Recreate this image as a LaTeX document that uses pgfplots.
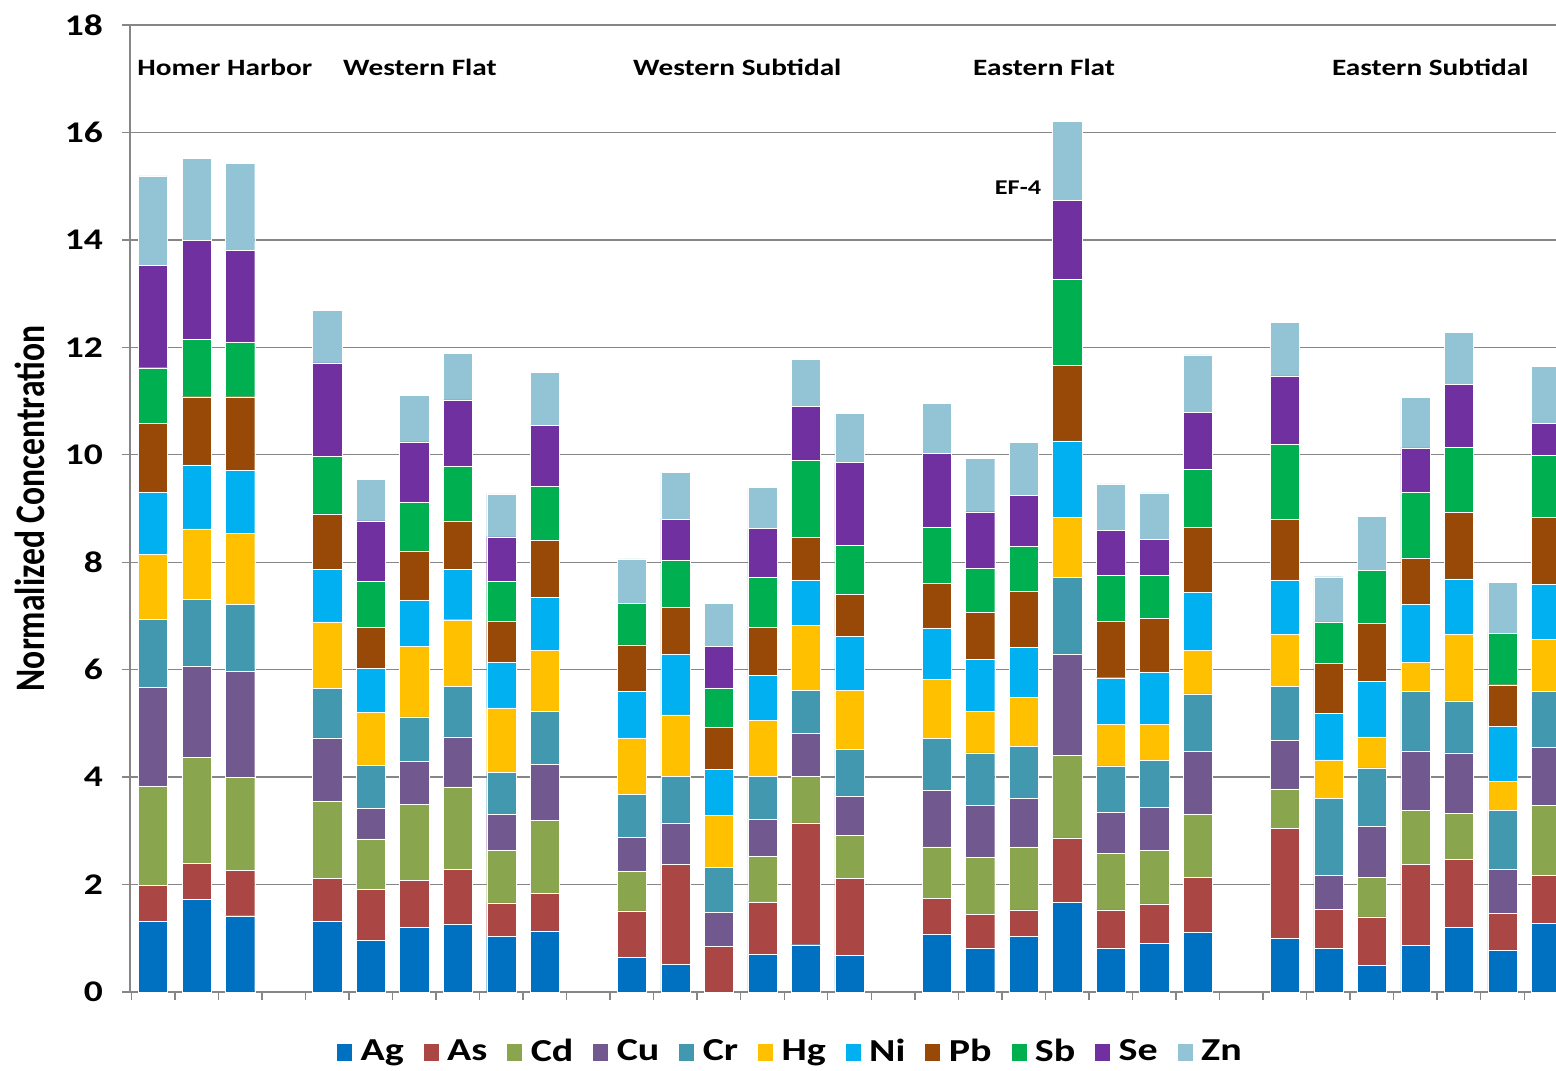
\documentclass[border=0pt]{standalone}
\usepackage{fontspec}
\setmainfont{Carlito}[FakeStretch=1.25]
\newfontfamily\ylabfont{Carlito}[FakeStretch=0.8]
\usepackage{pgfplots}
\usepackage{pgfplotstable}
\pgfplotsset{compat=1.18}

\definecolor{cAg}{HTML}{0070C0}
\definecolor{cAs}{HTML}{AA4644}
\definecolor{cCd}{HTML}{89A54E}
\definecolor{cCu}{HTML}{71588F}
\definecolor{cCr}{HTML}{4198AF}
\definecolor{cHg}{HTML}{FFC000}
\definecolor{cNi}{HTML}{00B0F0}
\definecolor{cPb}{HTML}{984807}
\definecolor{cSb}{HTML}{00B050}
\definecolor{cSe}{HTML}{7030A0}
\definecolor{cZn}{HTML}{93C4D5}
\definecolor{gridgray}{HTML}{868686}

% slot positions: 0-2 Homer Harbor, 4-9 Western Flat, 11-16 Western Subtidal,
% 18-24 Eastern Flat, 26-32 Eastern Subtidal
\pgfplotstableread{
x  Ag   As   Cd   Cu   Cr   Hg   Ni   Pb   Sb   Se   Zn
0  1.32 0.67 1.84 1.84 1.27 1.21 1.16 1.27 1.04 1.90 1.67
1  1.72 0.68 1.97 1.70 1.24 1.31 1.19 1.27 1.07 1.84 1.53
2  1.42 0.85 1.72 1.98 1.24 1.33 1.17 1.37 1.01 1.72 1.61
4  1.31 0.80 1.44 1.18 0.92 1.24 0.98 1.03 1.07 1.74 0.98
5  0.97 0.94 0.94 0.57 0.80 0.98 0.82 0.77 0.85 1.13 0.77
6  1.20 0.88 1.41 0.80 0.83 1.31 0.87 0.91 0.90 1.13 0.87
7  1.27 1.01 1.54 0.93 0.94 1.24 0.94 0.90 1.01 1.24 0.87
8  1.03 0.63 0.98 0.67 0.78 1.20 0.84 0.77 0.74 0.83 0.80
9  1.14 0.69 1.36 1.05 0.98 1.14 0.98 1.07 1.00 1.14 0.99
11 0.65 0.86 0.74 0.63 0.80 1.05 0.87 0.86 0.77 0.00 0.83
12 0.51 1.87 0.00 0.77 0.87 1.14 1.13 0.87 0.87 0.77 0.87
13 0.00 0.85 0.00 0.63 0.84 0.97 0.86 0.77 0.74 0.77 0.80
14 0.71 0.97 0.84 0.70 0.80 1.04 0.83 0.90 0.93 0.91 0.77
15 0.88 2.27 0.87 0.79 0.81 1.21 0.84 0.79 1.43 1.01 0.87
16 0.68 1.43 0.81 0.73 0.87 1.10 1.00 0.78 0.92 1.54 0.91
18 1.07 0.67 0.96 1.05 0.97 1.10 0.96 0.83 1.04 1.37 0.94
19 0.82 0.63 1.06 0.96 0.98 0.77 0.97 0.88 0.82 1.05 0.99
20 1.03 0.50 1.17 0.91 0.96 0.92 0.93 1.04 0.84 0.95 0.98
21 1.67 1.20 1.53 1.88 1.44 1.11 1.43 1.41 1.60 1.47 1.47
22 0.82 0.71 1.05 0.76 0.87 0.77 0.87 1.05 0.86 0.83 0.87
23 0.90 0.74 1.00 0.80 0.87 0.67 0.98 0.99 0.81 0.67 0.86
24 1.11 1.02 1.18 1.17 1.07 0.81 1.08 1.21 1.08 1.06 1.07
26 1.00 2.04 0.74 0.90 1.01 0.97 1.01 1.13 1.40 1.27 1.00
27 0.81 0.73 0.00 0.63 1.44 0.71 0.87 0.93 0.77 0.00 0.84
28 0.50 0.90 0.74 0.94 1.09 0.58 1.03 1.08 0.99 0.00 1.01
29 0.87 1.51 1.00 1.11 1.10 0.54 1.09 0.86 1.22 0.83 0.94
30 1.20 1.27 0.85 1.13 0.97 1.24 1.03 1.24 1.21 1.17 0.97
31 0.78 0.69 0.00 0.81 1.10 0.54 1.03 0.77 0.96 0.00 0.94
32 1.28 0.89 1.30 1.08 1.04 0.97 1.03 1.25 1.15 0.60 1.05
}\metals

\newcommand{\grp}{\bfseries\fontsize{11.7}{12}\selectfont}

\begin{document}
\begin{tikzpicture}
\path[use as bounding box] (0,0) rectangle (778pt,535pt);
\begin{axis}[
    at={(65pt,39pt)}, anchor=south west,
    scale only axis, width=713pt, height=483.5pt,
    ybar stacked, bar width=0.67,
    xmin=-0.53, xmax=32.23, ymin=0, ymax=18,
    ytick={0,2,...,18},
    xtick={-0.5,0.5,...,31.5},
    xticklabels={},
    axis x line*=bottom, axis y line*=left,
    axis line style={gridgray, line width=0.7pt},
    tick align=outside, major tick length=4pt,
    tick style={gridgray, line width=0.7pt},
    ymajorgrids, grid style={gridgray, line width=0.7pt},
    /pgf/number format/assume math mode=true,
    yticklabel style={font=\bfseries\fontsize{15}{15}\selectfont, anchor=east, xshift=-6pt},
    ylabel={\ylabfont\bfseries\fontsize{21}{21}\selectfont Normalized Concentration},
    ylabel style={at={(axis description cs:-0.070,0.5)}, anchor=center},
    legend style={at={(axis description cs:0.4635,-0.062)}, anchor=center,
        draw=none, fill=none, font=\bfseries\fontsize{16}{16}\selectfont,
        legend columns=11,
        /tikz/every odd column/.append style={column sep=2pt},
        /tikz/every even column/.append style={column sep=7.5pt}},
    legend image code/.code={\fill[#1] (0pt,-4.5pt) rectangle (8pt,4.5pt);},
  ]
  \addplot[fill=cAg, draw=white, line width=0.2pt] table[x=x,y=Ag] {\metals};
  \addplot[fill=cAs, draw=white, line width=0.2pt] table[x=x,y=As] {\metals};
  \addplot[fill=cCd, draw=white, line width=0.2pt] table[x=x,y=Cd] {\metals};
  \addplot[fill=cCu, draw=white, line width=0.2pt] table[x=x,y=Cu] {\metals};
  \addplot[fill=cCr, draw=white, line width=0.2pt] table[x=x,y=Cr] {\metals};
  \addplot[fill=cHg, draw=white, line width=0.2pt] table[x=x,y=Hg] {\metals};
  \addplot[fill=cNi, draw=white, line width=0.2pt] table[x=x,y=Ni] {\metals};
  \addplot[fill=cPb, draw=white, line width=0.2pt] table[x=x,y=Pb] {\metals};
  \addplot[fill=cSb, draw=white, line width=0.2pt] table[x=x,y=Sb] {\metals};
  \addplot[fill=cSe, draw=white, line width=0.2pt] table[x=x,y=Se] {\metals};
  \addplot[fill=cZn, draw=white, line width=0.2pt] table[x=x,y=Zn] {\metals};
  \legend{Ag,As,Cd,Cu,Cr,Hg,Ni,Pb,Sb,Se,Zn}

  \node[font=\grp] at (axis cs:1.65,17.22) {Homer Harbor};
  \node[font=\grp] at (axis cs:6.13,17.22) {Western Flat};
  \node[font=\grp] at (axis cs:13.42,17.22) {Western Subtidal};
  \node[font=\grp] at (axis cs:20.47,17.22) {Eastern Flat};
  \node[font=\grp] at (axis cs:29.34,17.22) {Eastern Subtidal};
  \node[font=\bfseries\fontsize{10.5}{11}\selectfont] at (axis cs:19.87,14.97) {EF-4};
\end{axis}
\end{tikzpicture}
\end{document}
